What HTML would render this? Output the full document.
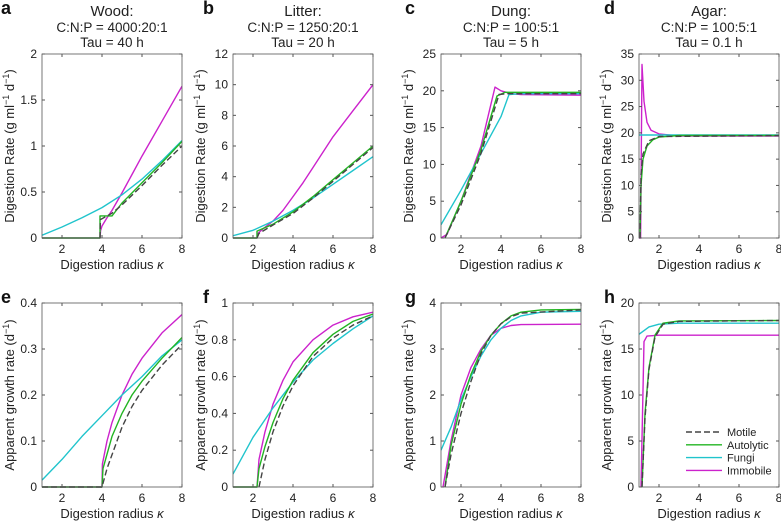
<!DOCTYPE html>
<html><head><meta charset="utf-8"><style>
body{margin:0;background:#fff;}
svg{display:block;font-family:"Liberation Sans",sans-serif;}
</style></head><body>
<svg id="fig" width="781" height="521"></svg>
<script>
// ---- data ----
const xTicks=[2,4,6,8];
const titles=[["Wood:","C:N:P = 4000:20:1","Tau = 40 h"],["Litter:","C:N:P = 1250:20:1","Tau = 20 h"],["Dung:","C:N:P = 100:5:1","Tau = 5 h"],["Agar:","C:N:P = 100:5:1","Tau = 0.1 h"]];
const letters=["a","b","c","d","e","f","g","h"];
const yMax=[2,12,25,35,0.4,1,4,20];
const yTickLabels=[["0","0.5","1","1.5","2"],["0","2","4","6","8","10","12"],["0","5","10","15","20","25"],["0","5","10","15","20","25","30","35"],["0","0.1","0.2","0.3","0.4"],["0","0.2","0.4","0.6","0.8","1"],["0","1","2","3","4"],["0","5","10","15","20"]];
const seriesNames=["Motile","Autolytic","Fungi","Immobile"];
const aMotX=[3.9,3.92,4.5,5,6,7,8], aMotY=[0,0.2,0.27,0.36,0.57,0.79,1.0];
const aAutX=[1,3.9,3.9,4.5,5,6,7,8], aAutY=[0,0,0.24,0.24,0.38,0.6,0.82,1.05];
const aFunX=[1,2,3,4,5,6,7,8], aFunY=[0.03,0.12,0.22,0.33,0.47,0.64,0.84,1.06];
const aImmX=[1,3.9,3.93,4,4.25,4.5,5,5.5,6,7,8], aImmY=[0,0,0.08,0.13,0.22,0.3,0.49,0.69,0.89,1.27,1.65];
const bMotX=[2.2,2.3,3,4,5,6,7,8], bMotY=[0,0.3,0.85,1.6,2.6,3.7,4.8,5.9];
const bAutX=[1,2.2,2.2,3,4,5,6,7,8], bAutY=[0,0,0.45,0.9,1.7,2.7,3.8,4.9,6.0];
const bFunX=[1,2,3,4,5,6,7,8], bFunY=[0.15,0.5,1.1,1.8,2.6,3.5,4.4,5.3];
const bImmX=[1,2.2,2.25,2.5,3,3.5,4,4.5,5,6,7,8], bImmY=[0,0,0.3,0.6,1.1,1.8,2.7,3.6,4.6,6.6,8.3,10];
const cMotX=[1.2,2,3,3.9,4.3,8], cMotY=[0,4.5,11.5,19.5,19.6,19.6];
const cAutX=[1.2,2,3,3.8,4.2,8], cAutY=[0,5,12,19.3,19.8,19.8];
const cFunX=[1,2,3,4,4.4,5,8], cFunY=[1.8,6.5,11.5,16.5,19.5,19.6,19.6];
const cImmX=[1,1.3,2,3,3.7,4,4.5,5,8], cImmY=[0,0.5,5,12.5,20.5,20,19.6,19.5,19.4];
const dMotX=[1.05,1.1,1.2,1.5,2,8], dMotY=[0,12,16,18.5,19.3,19.5];
const dAutX=[1.05,1.1,1.2,1.4,1.7,2,3,8], dAutY=[0,10,15,17.5,18.7,19.2,19.5,19.5];
const dFunX=[1,8], dFunY=[19.6,19.6];
const dImmX=[1,1.08,1.15,1.25,1.4,1.6,2,3,8], dImmY=[0,0,33,26,22,20.5,19.8,19.4,19.4];
const eMotX=[1,4,4.25,4.5,5,5.5,6,7,8], eMotY=[0,0,0.04,0.07,0.13,0.175,0.21,0.265,0.31];
const eAutX=[1,4,4.05,4.5,5,5.5,6,7,8], eAutY=[0,0,0.04,0.11,0.16,0.2,0.23,0.28,0.325];
const eFunX=[1,2,3,4,5,6,7,8], eFunY=[0.015,0.06,0.11,0.155,0.2,0.24,0.285,0.32];
const eImmX=[1,4,4.02,4.25,4.5,5,5.5,6,7,8], eImmY=[0,0,0.05,0.1,0.14,0.2,0.245,0.28,0.335,0.375];
const fMotX=[2.3,2.6,3,3.5,4,5,6,7,8], fMotY=[0,0.15,0.3,0.44,0.55,0.71,0.81,0.88,0.93];
const fAutX=[1,2.2,2.3,2.6,3,3.5,4,5,6,7,8], fAutY=[0,0,0.1,0.22,0.35,0.48,0.58,0.73,0.83,0.9,0.94];
const fFunX=[1,2,3,4,5,6,7,8], fFunY=[0.07,0.27,0.43,0.57,0.69,0.78,0.86,0.93];
const fImmX=[1,2.2,2.3,2.6,3,3.5,4,5,6,7,8], fImmY=[0,0,0.15,0.3,0.45,0.58,0.68,0.8,0.88,0.925,0.95];
const gMotX=[1.2,1.5,2,2.5,3,3.5,4,4.5,5,8], gMotY=[0,0.7,1.6,2.3,2.9,3.3,3.55,3.7,3.78,3.85];
const gAutX=[1.2,1.5,2,2.5,3,3.5,4,4.5,5,6,8], gAutY=[0,0.9,1.8,2.45,2.95,3.3,3.55,3.72,3.8,3.85,3.86];
const gFunX=[1,1.5,2,2.5,3,3.5,4,4.5,5,6,8], gFunY=[0.8,1.3,1.9,2.4,2.85,3.2,3.45,3.62,3.72,3.8,3.82];
const gImmX=[1.1,1.5,2,2.5,3,3.5,4,4.5,5,8], gImmY=[0,1.0,2.0,2.6,3.0,3.3,3.45,3.51,3.53,3.54];
const hMotX=[1.15,1.3,1.5,1.8,2.2,3,8], hMotY=[0,7.5,12.8,16.3,17.7,18.0,18.1];
const hAutX=[1.15,1.3,1.5,1.8,2.2,3,8], hAutY=[0,8,13,16.5,17.8,18.05,18.1];
const hFunX=[1,1.5,2,3,8], hFunY=[16.6,17.4,17.7,17.8,17.8];
const hImmX=[1.1,1.25,1.4,2,8], hImmY=[0,15.8,16.4,16.5,16.5];
const panelSeries=[
 [[aMotX,aMotY],[aAutX,aAutY],[aFunX,aFunY],[aImmX,aImmY]],
 [[bMotX,bMotY],[bAutX,bAutY],[bFunX,bFunY],[bImmX,bImmY]],
 [[cMotX,cMotY],[cAutX,cAutY],[cFunX,cFunY],[cImmX,cImmY]],
 [[dMotX,dMotY],[dAutX,dAutY],[dFunX,dFunY],[dImmX,dImmY]],
 [[eMotX,eMotY],[eAutX,eAutY],[eFunX,eFunY],[eImmX,eImmY]],
 [[fMotX,fMotY],[fAutX,fAutY],[fFunX,fFunY],[fImmX,fImmY]],
 [[gMotX,gMotY],[gAutX,gAutY],[gFunX,gFunY],[gImmX,gImmY]],
 [[hMotX,hMotY],[hAutX,hAutY],[hFunX,hFunY],[hImmX,hImmY]]];
// ---- drawing ----
const NS="http://www.w3.org/2000/svg";
const svg=document.getElementById("fig");
const colors=["#444","#22b422","#20c4cc","#cc22cc"];
const lefts=[42,233,441,639], W=140, tops=[54,303], H=184;
const letterX=[1,203,405,604];
function mk(tag,attrs,parent){const e=document.createElementNS(NS,tag);for(const k in attrs)e.setAttribute(k,attrs[k]);(parent||svg).appendChild(e);return e;}
function txt(s,x,y,size,anchor,parent,extra){const t=mk("text",Object.assign({x:x,y:y,"font-size":size,"text-anchor":anchor||"middle",fill:"#222"},extra||{}),parent);t.textContent=s;return t;}
for(let p=0;p<8;p++){
  const L=lefts[p%4], T=tops[Math.floor(p/4)];
  const g=mk("g",{});
  
  
  const xs=v=>L+(v-1)/7*W, ys=v=>T+H-v/yMax[p]*H;
  const lt=txt(letters[p],letterX[p%4],p<4?14:T,18,"start",g,{"font-weight":"bold",fill:"#111"});
  
  
  if(p<4){titles[p].forEach((s,i)=>{const t=txt(s,L+W/2,i==0?16:(i==1?32:47),i==0?15:13.5,"middle",g);
    
    });}
  const clip="c"+p;
  const cp=mk("clipPath",{id:clip},g);mk("rect",{x:L,y:T-1,width:W,height:H+2},cp);
  const sg=mk("g",{"clip-path":"url(#"+clip+")"},g);
  for(let s=3;s>=0;s--){
    const [X,Y]=panelSeries[p][s];
    const d=X.map((v,i)=>(i?"L":"M")+xs(v).toFixed(1)+","+ys(Y[i]).toFixed(1)).join("");
    const path=mk("path",{d:d,fill:"none",stroke:colors[s],"stroke-width":1.4,"stroke-linejoin":"round"},sg);
    if(s==0)path.setAttribute("stroke-dasharray","6,3");
    
    
  }
  const box=mk("rect",{x:L,y:T,width:W,height:H,fill:"none",stroke:"#555","stroke-width":0.8},g);
  
  
  xTicks.forEach(v=>{mk("line",{x1:xs(v),x2:xs(v),y1:T+H,y2:T+H-3,stroke:"#555"},g);mk("line",{x1:xs(v),x2:xs(v),y1:T,y2:T+3,stroke:"#555"},g);
    const t=txt(String(v),xs(v),T+H+15,12,"middle",g);
    
    });
  yTickLabels[p].forEach(s=>{const v=parseFloat(s);mk("line",{x1:L,x2:L+3,y1:ys(v),y2:ys(v),stroke:"#555"},g);mk("line",{x1:L+W,x2:L+W-3,y1:ys(v),y2:ys(v),stroke:"#555"},g);
    const t=txt(s,L-5,ys(v)+4,12,"end",g);
    
    });
  const xl=txt("Digestion radius ",L+W/2,T+H+31,13,"middle",g);
  const ks=mk("tspan",{"font-style":"italic"},xl);ks.textContent="κ";
  
  
  const yx=L-28, yy=T+H/2;
  const yl=txt(p<4?"Digestion Rate (g ml":"Apparent growth rate (d",yx,yy,13,"middle",g,{transform:"rotate(-90 "+yx+" "+yy+")"});
  if(p<4){const s1=mk("tspan",{"baseline-shift":"super","font-size":9},yl);s1.textContent="−1";
    const s2=mk("tspan",{},yl);s2.textContent=" d";}
  const s3=mk("tspan",{"baseline-shift":"super","font-size":9},yl);s3.textContent="−1";
  const s4=mk("tspan",{},yl);s4.textContent=")";
  
  
}
const lg=mk("g",{});


seriesNames.forEach((n,i)=>{
  const y=432+i*12.8;
  const l=mk("line",{x1:686,x2:722,y1:y,y2:y,stroke:colors[i],"stroke-width":1.4},lg);
  if(i==0)l.setAttribute("stroke-dasharray","6,3");
  const t=txt(n,727,y+4,11,"start",lg);
  
  
});
</script>
</body></html>
